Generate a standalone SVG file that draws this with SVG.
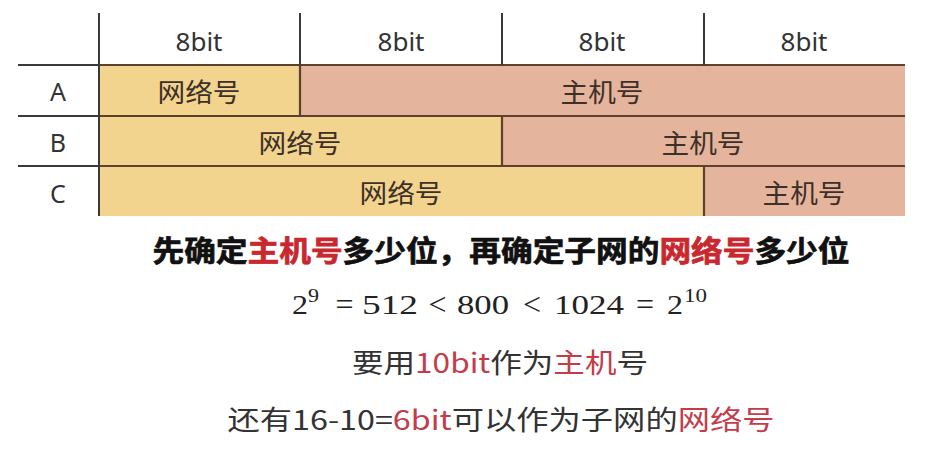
<svg xmlns="http://www.w3.org/2000/svg" width="945" height="458" viewBox="0 0 945 458">
<style>
.net{fill:#f2d48e}
.host{fill:#e5b49d}
.ln{stroke:#3a3a3a;stroke-width:2;fill:none}
.bl{stroke:#5e4030;stroke-width:2.2;fill:none}
.t{font-family:"Noto Sans CJK SC","Noto Sans",sans-serif;fill:#333;text-anchor:middle}
.lab{font-family:"Noto Sans","Liberation Sans",sans-serif;fill:#333;text-anchor:middle;font-size:25px}
.cell{font-size:26px;fill:#3d3028}
.bold{font-size:29px;font-weight:700;fill:#111;stroke:#111;stroke-width:0.7}
.red{fill:#c8282e;stroke:#c8282e}
.red2{fill:#c43c4a}
.m{font-family:"Liberation Serif","DejaVu Serif",serif;fill:#222;font-size:27px}
.sup{font-size:18px}
.op{font-size:32px;text-anchor:middle}
</style>
<rect width="945" height="458" fill="#ffffff"/>
<g id="row-A">
<rect class="net" x="99" y="65" width="201" height="51"/>
<rect class="host" x="300" y="65" width="605" height="51"/>
<text class="lab" x="58" y="101">A</text>
<text class="t cell" x="199" y="102" textLength="83" lengthAdjust="spacingAndGlyphs">网络号</text>
<text class="t cell" x="602" y="102" textLength="83" lengthAdjust="spacingAndGlyphs">主机号</text>
</g>
<g id="row-B">
<rect class="net" x="99" y="116" width="403" height="50"/>
<rect class="host" x="502" y="116" width="403" height="50"/>
<text class="lab" x="58" y="152">B</text>
<text class="t cell" x="300" y="153" textLength="83" lengthAdjust="spacingAndGlyphs">网络号</text>
<text class="t cell" x="703" y="153" textLength="83" lengthAdjust="spacingAndGlyphs">主机号</text>
</g>
<g id="row-C">
<rect class="net" x="99" y="166" width="605" height="50"/>
<rect class="host" x="704" y="166" width="201" height="50"/>
<text class="lab" x="58" y="203">C</text>
<text class="t cell" x="401" y="203" textLength="83" lengthAdjust="spacingAndGlyphs">网络号</text>
<text class="t cell" x="804" y="203" textLength="83" lengthAdjust="spacingAndGlyphs">主机号</text>
</g>
<g id="header">
<text class="lab" x="199" y="51" textLength="47" lengthAdjust="spacingAndGlyphs">8bit</text>
<text class="lab" x="401" y="51" textLength="47" lengthAdjust="spacingAndGlyphs">8bit</text>
<text class="lab" x="602" y="51" textLength="47" lengthAdjust="spacingAndGlyphs">8bit</text>
<text class="lab" x="804" y="51" textLength="47" lengthAdjust="spacingAndGlyphs">8bit</text>
</g>
<g id="grid-lines">
<path class="ln" d="M18 65H99M18 116H99M18 166H99"/>
<path class="bl" d="M99 65H905M99 116H905M99 166H905"/>
<path class="ln" d="M99 13V216M300 13V65M502 13V65M704 13V65"/>
<path class="bl" d="M300 65V116M502 116V166M704 166V216"/>
</g>
<g id="notes">
<text class="t bold" x="501" y="262" textLength="697" lengthAdjust="spacingAndGlyphs">先确定<tspan class="red">主机号</tspan>多少位，再确定子网的<tspan class="red">网络号</tspan>多少位</text>
<g id="formula">
<text class="m" x="292" y="314" textLength="16" lengthAdjust="spacingAndGlyphs">2</text>
<text class="m sup" x="308" y="302" textLength="11" lengthAdjust="spacingAndGlyphs">9</text>
<text class="m op" x="344.5" y="315">=</text>
<text class="m" x="362" y="314" textLength="56" lengthAdjust="spacingAndGlyphs">512</text>
<text class="m op" x="437.5" y="315">&lt;</text>
<text class="m" x="457" y="314" textLength="52" lengthAdjust="spacingAndGlyphs">800</text>
<text class="m op" x="532" y="315">&lt;</text>
<text class="m" x="554" y="314" textLength="70" lengthAdjust="spacingAndGlyphs">1024</text>
<text class="m op" x="645" y="315">=</text>
<text class="m" x="667" y="314" textLength="16" lengthAdjust="spacingAndGlyphs">2</text>
<text class="m sup" x="684" y="302" textLength="23" lengthAdjust="spacingAndGlyphs">10</text>
</g>
<text class="t" x="500" y="373" font-size="27" fill="#222" textLength="296" lengthAdjust="spacingAndGlyphs">要用<tspan class="red2">10bit</tspan>作为<tspan class="red2">主机</tspan>号</text>
<text class="t" x="501" y="430" font-size="27" fill="#222" textLength="547" lengthAdjust="spacingAndGlyphs">还有16-10=<tspan class="red2">6bit</tspan>可以作为子网的<tspan class="red2">网络号</tspan></text>
</g>
</svg>
